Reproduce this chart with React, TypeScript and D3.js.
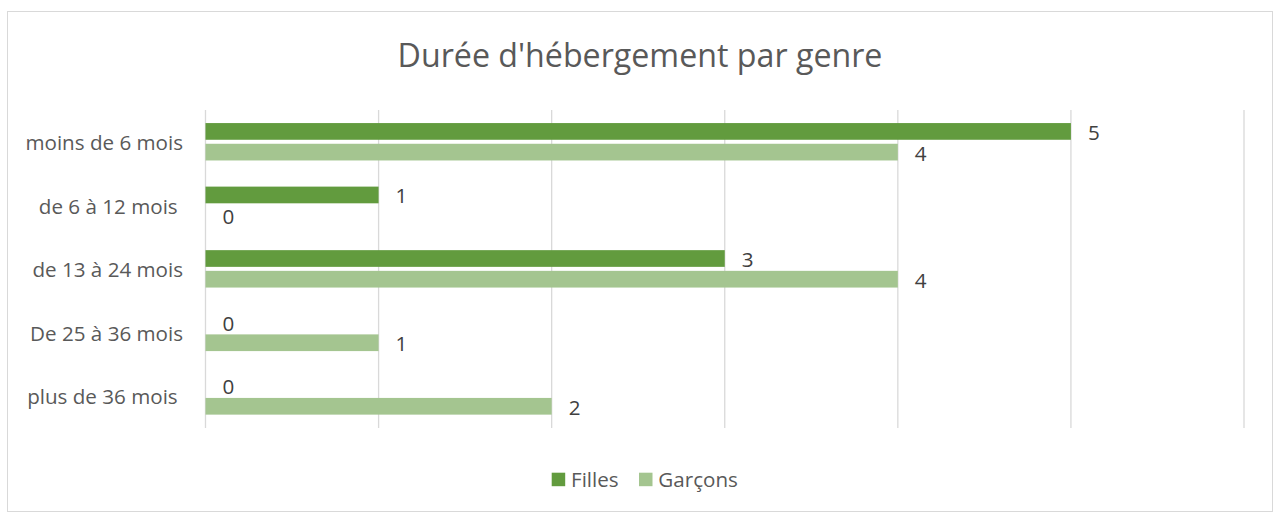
import React from "react";
import * as d3 from "d3";

const categories = ["moins de 6 mois", "de 6 à 12 mois ", "de 13 à 24 mois", "De 25 à 36 mois", "plus de 36 mois "];
const seriesNames = ["Filles", "Garçons"];
const filles = [5, 1, 3, 0, 0];
const garcons = [4, 0, 4, 1, 2];
const xTicks = [0, 1, 2, 3, 4, 5, 6];
const colors = ["#629B3E", "#A4C590"];

const W = 1276;
const H = 512;

export default function App() {
  const x = d3.scaleLinear().domain([0, 6]).range([205.5, 1244]);
  const y0 = d3.scaleBand<string>().domain(categories).range([110, 427.7]).padding(0);
  const y1 = d3.scaleBand<string>().domain(seriesNames).range([-18.7, 18.7]).paddingInner(0.193).paddingOuter(0);
  const seriesValues = [filles, garcons];
  const font = "'Open Sans', sans-serif";
  const fs = 20.6;
  return (
    <div style={{ position: "absolute", left: 0, top: 0 }}>
      <svg width={W} height={H} style={{ display: "block" }}>
        <rect x={0} y={0} width={W} height={H} fill="#ffffff" />
        <rect x={7.5} y={11.5} width={1265} height={500} fill="#ffffff" stroke="#D9D9D9" strokeWidth={1} />
        <text x={640} y={66.7} textAnchor="middle" fontFamily={font} fontSize={32.2} fill="#595959">
          Durée d'hébergement par genre
        </text>
        {xTicks.map((t) => (
          <line key={t} x1={x(t)} x2={x(t)} y1={110} y2={428} stroke="#D9D9D9" strokeWidth={1.3} />
        ))}
        {categories.map((c, i) => (
          <g key={c}>
            <text
              x={183}
              y={(y0(c) as number) + y0.bandwidth() / 2 + 8.2}
              textAnchor="end"
              fontFamily={font}
              fontSize={fs}
              fill="#595959"
              style={{ whiteSpace: "pre" }}
            >
              {c}
            </text>
            {seriesNames.map((s, j) => {
              const v = seriesValues[j][i];
              const top = (y0(c) as number) + y0.bandwidth() / 2 + (y1(s) as number);
              return (
                <g key={s}>
                  <rect x={x(0)} y={top} width={x(v) - x(0)} height={y1.bandwidth()} fill={colors[j]} />
                  <text
                    x={x(v) + 17}
                    y={top + y1.bandwidth() / 2 + 8.5}
                    fontFamily={font}
                    fontSize={fs}
                    fill="#404040"
                  >
                    {v}
                  </text>
                </g>
              );
            })}
          </g>
        ))}
        {seriesNames.map((s, j) => {
          const lx = [551.7, 639][j];
          return (
            <g key={s}>
              <rect x={lx} y={472.7} width={13.5} height={13.5} fill={colors[j]} />
              <text x={lx + 19.3} y={486.5} fontFamily={font} fontSize={fs} fill="#595959">
                {s}
              </text>
            </g>
          );
        })}
      </svg>
    </div>
  );
}
